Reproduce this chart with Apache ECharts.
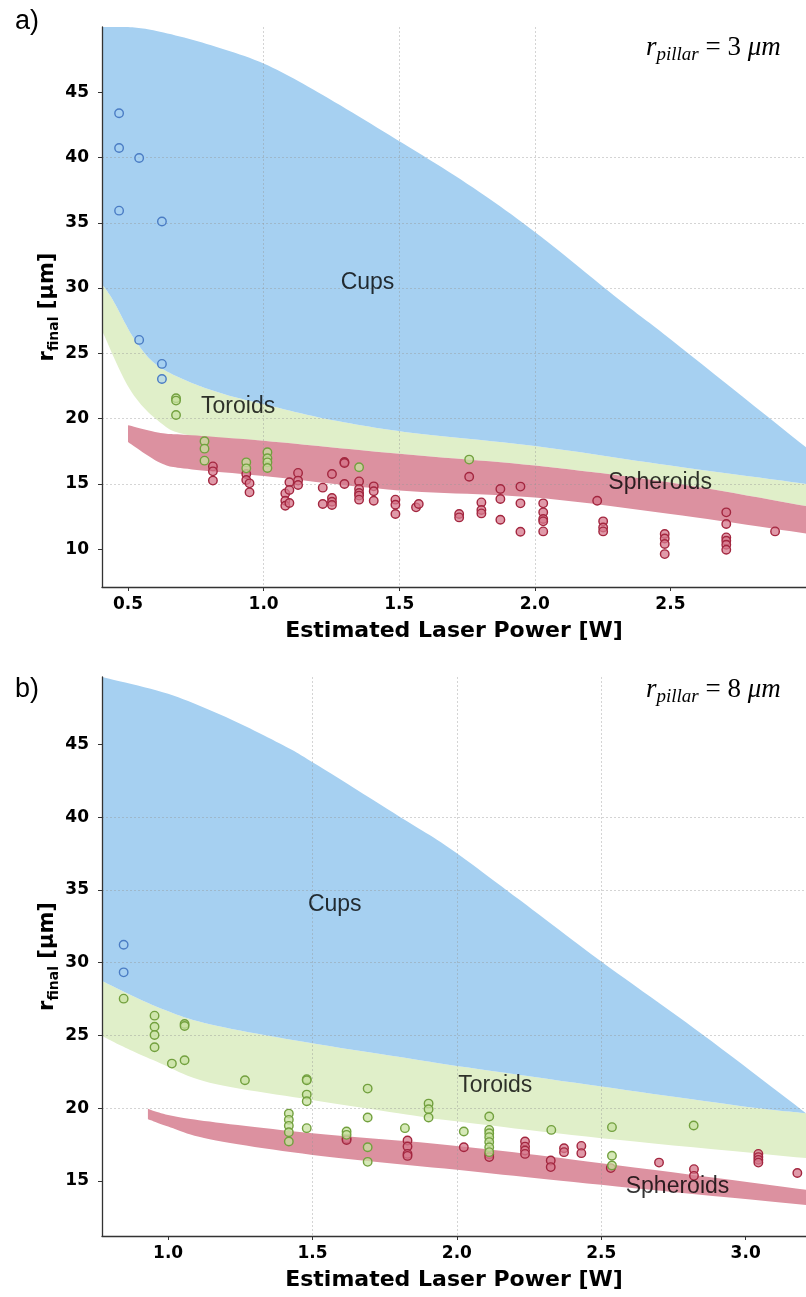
<!DOCTYPE html>
<html><head><meta charset="utf-8">
<script src="https://cdn.jsdelivr.net/npm/echarts@6/dist/echarts.min.js"></script>
<style>html,body{margin:0;padding:0;background:#fff}#c{width:806px;height:1297px}</style>
</head><body><div id="c"></div>
<script>
// ---------- Panel a) r_pillar = 3 um ----------
const topCups = [[0.467,43.39],[0.467,40.73],[0.541,39.96],[0.467,35.93],[0.625,35.1],[0.541,26.03],[0.625,24.19],[0.625,23.04]];
const topToroids = [[0.677,21.56],[0.677,21.38],[0.677,20.28],[0.782,18.26],[0.782,17.7],[0.782,16.78],[0.936,16.65],[0.936,16.19],[1.014,17.42],[1.014,16.96],[1.014,16.65],[1.014,16.22],[1.352,16.27],[1.758,16.86]];
const topSpheroids = [
[0.813,16.34],[0.813,15.96],[0.813,15.25],
[0.936,15.76],[0.936,15.3],[0.948,15.04],[0.948,14.35],
[1.095,15.12],[1.08,14.27],[1.095,14.53],[1.08,13.71],[1.08,13.33],[1.095,13.54],
[1.127,15.84],[1.127,15.25],[1.127,14.91],
[1.218,14.71],[1.218,13.46],
[1.252,15.76],[1.252,13.92],[1.252,13.63],[1.252,13.38],
[1.298,16.68],[1.298,16.6],[1.298,14.99],
[1.352,15.19],[1.352,14.61],[1.352,14.3],[1.352,14.1],[1.352,13.79],
[1.406,14.81],[1.406,14.43],[1.406,13.71],
[1.486,13.79],[1.486,13.4],[1.486,12.69],
[1.562,13.2],[1.572,13.46],
[1.721,12.69],[1.721,12.43],
[1.758,15.55],
[1.803,13.58],[1.803,13.0],[1.803,12.74],
[1.873,14.61],[1.873,13.84],[1.873,12.25],
[1.947,14.79],[1.947,13.51],[1.947,11.33],
[2.031,13.51],[2.031,12.82],[2.031,12.31],[2.031,12.13],[2.031,11.36],
[2.23,13.71],
[2.252,12.13],[2.252,11.66],[2.252,11.36],
[2.479,11.16],[2.479,10.82],[2.479,10.39],[2.479,9.62],
[2.706,12.82],[2.706,11.93],[2.706,10.9],[2.706,10.64],[2.706,10.34],[2.706,9.95],
[2.886,11.36]];
// region boundaries (x, r_final)
const topCupsUpper = [[0.404,50],[0.5,50],[0.605,49.7],[0.79,48.7],[1.0,47.2],[1.2,45.0],[1.465,41.7],[1.75,38.0],[2.0,34.3],[2.315,29.05],[2.505,26.0],[3.0,17.8]];
const topCupsLower = [[0.404,30.3],[0.445,29.05],[0.52,26.2],[0.6,24.2],[0.716,22.9],[0.85,21.9],[1.0,21.1],[1.25,19.9],[1.55,18.9],[2.0,17.9],[2.5,16.4],[3.0,15.0]];
const topToroidsLower = [[0.404,26.75],[0.505,22.3],[0.61,19.85],[0.72,18.75],[1.0,18.3],[1.5,17.3],[2.0,16.4],[2.5,15.1],[3.0,13.3]];
const topSpheroidsUpper = [[0.5,19.5],[0.62,18.9],[0.72,18.75],[1.0,18.3],[1.5,17.3],[2.0,16.4],[2.5,15.1],[3.0,13.3]];
const topSpheroidsLower = [[0.5,18.2],[0.62,16.6],[0.72,16.15],[1.0,15.6],[1.5,14.5],[2.0,13.95],[2.5,12.7],[3.0,11.2]];
const topLabels = [[1.383,30.45,'Cups'],[0.906,20.94,'Toroids'],[2.462,15.07,'Spheroids']];
const topXTicks = [0.5,1.0,1.5,2.0,2.5];
const topYTicks = [10,15,20,25,30,35,40,45];

// ---------- Panel b) r_pillar = 8 um ----------
const botCups = [[0.846,31.24],[0.846,29.34]];
const botToroids = [[0.846,27.53],[0.953,26.36],[0.953,25.6],[0.953,25.03],[0.953,24.19],[1.013,23.06],[1.057,25.79],[1.057,25.65],[1.057,23.29],[1.266,21.92],
[1.418,19.62],[1.418,19.19],[1.418,18.78],[1.418,18.34],[1.418,17.7],
[1.48,21.99],[1.48,21.92],[1.48,20.93],[1.48,20.47],[1.48,18.62],
[1.618,18.39],[1.618,18.16],
[1.691,21.34],[1.691,19.35],[1.691,17.31],[1.691,16.3],
[1.82,18.62],
[1.902,20.31],[1.902,19.92],[1.902,19.35],
[2.024,18.39],
[2.112,19.42],[2.112,18.5],[2.112,18.27],[2.112,18.0],[2.112,17.66],[2.112,17.31],[2.112,16.97],
[2.327,18.5],
[2.537,18.69],[2.537,16.72],[2.537,16.05],
[2.82,18.8]];
const botSpheroids = [[1.618,17.9],[1.618,17.81],[1.829,17.77],[1.829,17.36],[1.829,16.85],[1.829,16.71],[2.024,17.31],[2.112,16.83],[2.112,16.63],[2.236,17.7],[2.236,17.35],[2.236,17.08],[2.236,16.85],[2.325,16.39],[2.325,15.94],[2.371,17.24],[2.371,16.97],[2.431,17.4],[2.431,16.9],[2.533,15.87],[2.7,16.25],[2.821,15.8],[2.821,15.34],[3.044,16.85],[3.044,16.63],[3.044,16.44],[3.044,16.25],[3.179,15.53]];
const botCupsUpper = [[0.771,49.66],[1.0,48.5],[1.2,46.9],[1.387,45.08],[1.5,43.8],[1.803,40.03],[1.976,37.86],[2.218,34.31],[2.501,30.07],[2.853,25.03],[3.209,19.65]];
const botCupsLower = [[0.771,28.74],[0.96,26.98],[1.144,25.77],[1.499,24.46],[1.872,23.3],[1.976,22.97],[2.501,21.48],[3.0,20.1],[3.209,19.65]];
const botToroidsLower = [[0.771,24.96],[0.844,24.23],[0.96,23.2],[1.144,21.75],[1.499,20.56],[1.872,19.42],[1.976,19.14],[2.501,17.93],[3.209,16.56]];
const botSpheroidsUpper = [[0.93,19.95],[1.0,19.53],[1.144,19.07],[1.5,18.27],[2.0,17.4],[2.5,16.21],[3.209,14.38]];
const botSpheroidsLower = [[0.93,19.24],[1.0,18.73],[1.144,17.86],[1.5,16.78],[2.0,15.75],[2.5,14.72],[3.209,13.33]];
const botLabels = [[1.577,34.03,'Cups'],[2.133,21.55,'Toroids'],[2.764,14.6,'Spheroids']];
const botXTicks = [1.0,1.5,2.0,2.5,3.0];
const botYTicks = [15,20,25,30,35,40,45];

const C_BLUE = '#a6d0f1', C_GREEN = '#e0efc9', C_PINK = '#dc91a0';
const TICK_FONT = 'DejaVu Sans';

// smooth curve through pixel points (Catmull-Rom), rendering only
function smoothEdge(px) {
  const out = [];
  const n = px.length;
  for (let i = 0; i < n - 1; i++) {
    const p0 = px[Math.max(0, i - 1)], p1 = px[i], p2 = px[i + 1], p3 = px[Math.min(n - 1, i + 2)];
    const steps = 12;
    for (let s = 0; s < steps; s++) {
      const t = s / steps, t2 = t * t, t3 = t2 * t;
      const f = k => 0.5 * ((2 * p1[k]) + (-p0[k] + p2[k]) * t + (2 * p0[k] - 5 * p1[k] + 4 * p2[k] - p3[k]) * t2 + (-p0[k] + 3 * p1[k] - 3 * p2[k] + p3[k]) * t3);
      out.push([f(0), f(1)]);
    }
  }
  out.push(px[n - 1]);
  return out;
}
function band(upper, lower, color, idx) {
  return {
    type: 'custom', xAxisIndex: idx, yAxisIndex: idx, z: 1, silent: true,
    data: [[upper[1][0], upper[1][1]]],
    renderItem: function (params, api) {
      const cs = params.coordSys;
      const clampY = p => [p[0], Math.min(cs.y + cs.height, Math.max(cs.y, p[1]))];
      const up = smoothEdge(upper.map(p => api.coord(p))).map(clampY);
      const lo = smoothEdge(lower.map(p => api.coord(p))).map(clampY).reverse();
      return { type: 'polygon', shape: { points: up.concat(lo) }, style: { fill: color } };
    }
  };
}
function pts(data, idx, fill, edge) {
  return { type: 'scatter', xAxisIndex: idx, yAxisIndex: idx, z: 3, silent: true,
    data: data, symbol: 'circle', symbolSize: 8.5,
    itemStyle: { color: fill, borderColor: edge, borderWidth: 1.4, opacity: 1 } };
}
function labels(data, idx) {
  return { type: 'scatter', xAxisIndex: idx, yAxisIndex: idx, z: 4, silent: true,
    data: data, symbolSize: 1, itemStyle: { color: 'rgba(0,0,0,0)' },
    label: { show: true, position: 'inside', formatter: p => p.data[2],
      color: '#000', fontSize: 23, fontFamily: 'Liberation Sans' } };
}
const gridLine = { show: true, showMinLine: false, showMaxLine: false, lineStyle: { color: 'rgba(150,150,150,0.5)', type: [2, 2], width: 0.8 } };
function xAx(idx, min, max, ticks) {
  return { type: 'value', gridIndex: idx, min: min, max: max, splitNumber: 5, z: 2,
    name: 'Estimated Laser Power [W]', nameLocation: 'middle', nameGap: 33,
    nameTextStyle: { fontFamily: TICK_FONT, fontWeight: 'bold', fontSize: 22, color: '#000' },
    axisLine: { lineStyle: { color: '#333', width: 1.3 } },
    axisTick: { show: true, length: 4, customValues: ticks, lineStyle: { color: '#333', width: 1 } },
    axisLabel: { customValues: ticks, margin: 9, fontFamily: TICK_FONT, fontWeight: 'bold', fontSize: 17, color: '#000',
      formatter: v => v.toFixed(1) },
    splitLine: gridLine };
}
function yAx(idx, min, max, ticks) {
  return { type: 'value', gridIndex: idx, min: min, max: max, splitNumber: 8, z: 2,
    name: '{a|r}{b|final}{a| [μm]}', nameLocation: 'middle', nameGap: 41, nameRotate: 90, nameMoveOverlap: false,
    nameTextStyle: { rich: {
      a: { fontFamily: TICK_FONT, fontWeight: 'bold', fontSize: 21, color: '#000', lineHeight: 26 },
      b: { fontFamily: TICK_FONT, fontWeight: 'bold', fontSize: 14, color: '#000', lineHeight: 26, verticalAlign: 'bottom' } } },
    axisLine: { show: true, lineStyle: { color: '#333', width: 1.3 } },
    axisTick: { show: true, length: 4, customValues: ticks, lineStyle: { color: '#333', width: 1 } },
    axisLabel: { customValues: ticks, margin: 13, fontFamily: TICK_FONT, fontWeight: 'bold', fontSize: 17, color: '#000' },
    splitLine: gridLine };
}
const annRich = {
  i: { fontFamily: 'Liberation Serif', fontStyle: 'italic', fontWeight: 'normal', fontSize: 27, color: '#000', lineHeight: 32 },
  s: { fontFamily: 'Liberation Serif', fontStyle: 'italic', fontWeight: 'normal', fontSize: 19, color: '#000', verticalAlign: 'bottom', lineHeight: 32 },
  n: { fontFamily: 'Liberation Serif', fontWeight: 'normal', fontSize: 27, color: '#000', lineHeight: 32 }
};

const chart = echarts.init(document.getElementById('c'));
chart.setOption({
  animation: false,
  backgroundColor: '#fff',
  title: [
    { text: 'a)', left: 10, top: 3, textStyle: { fontFamily: 'Liberation Sans', fontWeight: 'normal', fontSize: 27, color: '#000' } },
    { text: 'b)', left: 10, top: 671, textStyle: { fontFamily: 'Liberation Sans', fontWeight: 'normal', fontSize: 27, color: '#000' } },
    { text: '{i|r}{s|pillar}{n| = 3 }{i|μm}', left: 641, top: 27, textStyle: { fontWeight: 'normal', rich: annRich } },
    { text: '{i|r}{s|pillar}{n| = 8 }{i|μm}', left: 641, top: 669, textStyle: { fontWeight: 'normal', rich: annRich } }
  ],
  grid: [
    { left: 102, top: 27, width: 704, height: 560 },
    { left: 102, top: 677, width: 704, height: 559 }
  ],
  xAxis: [xAx(0, 0.404, 3.0, topXTicks), xAx(1, 0.771, 3.209, botXTicks)],
  yAxis: [yAx(0, 7.1, 50, topYTicks), yAx(1, 11.2, 49.66, botYTicks)],
  series: [
    band(topCupsLower, topToroidsLower, C_GREEN, 0),
    band(topSpheroidsUpper, topSpheroidsLower, C_PINK, 0),
    band(topCupsUpper, topCupsLower, C_BLUE, 0),
    band(botCupsLower, botToroidsLower, C_GREEN, 1),
    band(botSpheroidsUpper, botSpheroidsLower, C_PINK, 1),
    band(botCupsUpper, botCupsLower, C_BLUE, 1),
    pts(topSpheroids, 0, 'rgba(214,120,140,0.75)', '#a3263f'),
    pts(topToroids, 0, 'rgba(200,226,160,0.75)', '#72a03e'),
    pts(topCups, 0, 'rgba(166,208,241,0.6)', '#4a7cc4'),
    pts(botSpheroids, 1, 'rgba(214,120,140,0.75)', '#a3263f'),
    pts(botToroids, 1, 'rgba(200,226,160,0.75)', '#72a03e'),
    pts(botCups, 1, 'rgba(166,208,241,0.6)', '#4a7cc4'),
    labels(topLabels, 0),
    labels(botLabels, 1)
  ]
});
</script></body></html>
